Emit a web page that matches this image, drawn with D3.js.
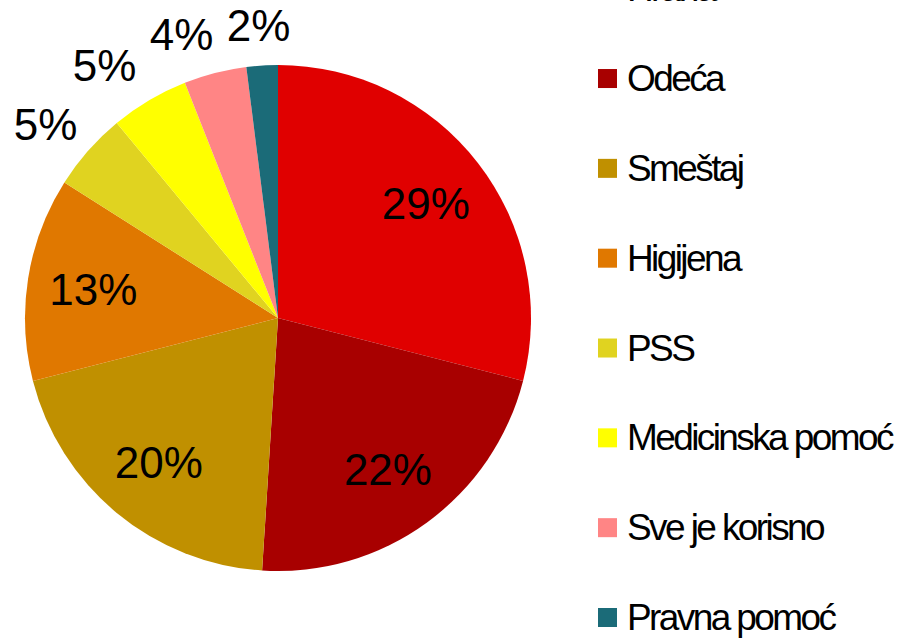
<!DOCTYPE html>
<html>
<head>
<meta charset="utf-8">
<script src="https://cdn.jsdelivr.net/npm/d3@7"></script>
<style>
  body { margin: 0; background: #fff; }
  svg { display: block; font-family: "Liberation Sans", Arial, sans-serif; }
</style>
</head>
<body>
<svg width="899" height="638"></svg>
<script>
var categories = ["Hrana", "Odeća", "Smeštaj", "Higijena", "PSS", "Medicinska pomoć", "Sve je korisno", "Pravna pomoć"];
var values = [29, 22, 20, 13, 5, 5, 4, 2];
var colors = ["#e00000", "#a80000", "#c09000", "#e07800", "#e0d320", "#ffff00", "#ff8585", "#1b6b78"];

var svg = d3.select("svg"),
    width = +svg.attr("width"),
    height = +svg.attr("height");

var cx = 278, cy = 318, r = 253;

var data = categories.map(function(c, i) { return { name: c, value: values[i], color: colors[i] }; });

var pie = d3.pie()
    .sort(null)
    .value(function(d) { return d.value; });

var arc = d3.arc().innerRadius(0).outerRadius(r);

var g = svg.append("g")
    .attr("transform", "translate(" + cx + "," + cy + ")");

var arcs = pie(data);

g.selectAll("path")
  .data(arcs)
  .enter().append("path")
    .attr("d", arc)
    .attr("fill", function(d) { return d.data.color; });

// big slices get the label inside, small ones outside the rim
// (outside: the box is pushed out so its inner edge sits just past the rim)
var boxW = 66, boxH = 33;
arcs.forEach(function(d) {
  var a = (d.startAngle + d.endAngle) / 2,
      ux = Math.sin(a), uy = -Math.cos(a);
  d.outside = d.data.value < 10;
  if (!d.outside) { d.lx = ux * 187; d.ly = uy * 187; return; }
  var rr = r + 24;
  d.lx = ux * rr + ux * boxW / 2;
  d.ly = uy * rr + uy * boxH / 2;
});

// nudge outside labels left so they don't run into each other
var outs = arcs.filter(function(d) { return d.outside; }).reverse();
for (var k = 1; k < outs.length; k++) {
  var prev = outs[k - 1], cur = outs[k];
  var overlapY = Math.abs(cur.ly - prev.ly) < boxH;
  if (overlapY && cur.lx > prev.lx - boxW - 11) cur.lx = prev.lx - boxW - 11;
}

g.selectAll("text.lbl")
  .data(arcs)
  .enter().append("text")
    .attr("class", "lbl")
    .attr("x", function(d) { return d.lx; })
    .attr("y", function(d) { return d.ly; })
    .attr("dy", "0.36em")
    .attr("text-anchor", "middle")
    .style("font-size", "44px")
    .style("fill", "#000")
    .text(function(d) { return d.data.value + "%"; });

// legend
var legendY = d3.scaleLinear()
    .domain([0, categories.length - 1])
    .range([-11.3, 617.5]);

var legend = svg.append("g").selectAll("g")
  .data(data)
  .enter().append("g")
    .attr("transform", function(d, i) { return "translate(598," + legendY(i) + ")"; });

legend.append("rect")
    .attr("x", 0)
    .attr("y", -9.5)
    .attr("width", 19)
    .attr("height", 19)
    .attr("fill", function(d) { return d.color; });

legend.append("text")
    .attr("x", 29)
    .attr("y", 12.5)
    .style("font-size", "37px")
    .style("letter-spacing", "-2.6px")
    .style("fill", "#000")
    .text(function(d) { return d.name; });
</script>
</body>
</html>
